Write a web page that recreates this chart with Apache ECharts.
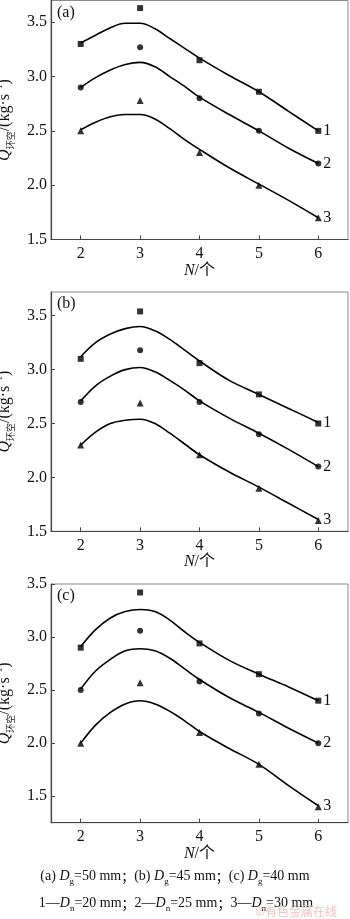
<!DOCTYPE html>
<html>
<head>
<meta charset="utf-8">
<script src="https://cdn.jsdelivr.net/npm/echarts@6/dist/echarts.min.js"></script>
<style>
html,body{margin:0;padding:0;background:#fff;}
#chart{width:350px;height:919px;}
</style>
</head>
<body>
<div id="chart"></div>
<script>
// ---- data ----
const xTicks = [2, 3, 4, 5, 6];
const seriesNames = ['1', '2', '3'];
const panelTags = ['(a)', '(b)', '(c)'];
const yTicks = [1.5, 2.0, 2.5, 3.0, 3.5];

// measured points (N = 2..6)
const aS1 = [3.30, 3.63, 3.15, 2.86, 2.50];
const aS2 = [2.90, 3.27, 2.80, 2.50, 2.20];
const aS3 = [2.50, 2.78, 2.30, 2.00, 1.70];
const bS1 = [3.10, 3.54, 3.06, 2.77, 2.50];
const bS2 = [2.70, 3.18, 2.70, 2.40, 2.10];
const bS3 = [2.30, 2.69, 2.21, 1.90, 1.60];
const cS1 = [2.90, 3.42, 2.94, 2.65, 2.40];
const cS2 = [2.50, 3.06, 2.58, 2.28, 2.00];
const cS3 = [2.00, 2.57, 2.10, 1.80, 1.40];

// fitted curves
const curveX = [2, 2.25, 2.5, 2.75, 3, 3.25, 3.5, 3.75, 4, 4.5, 5, 5.5, 6];
const aC1 = [3.31, 3.38, 3.45, 3.49, 3.49, 3.44, 3.35, 3.26, 3.17, 3.01, 2.86, 2.68, 2.50];
const aC2 = [2.90, 2.99, 3.06, 3.11, 3.13, 3.09, 3.00, 2.91, 2.81, 2.65, 2.50, 2.34, 2.20];
const aC3 = [2.51, 2.58, 2.63, 2.65, 2.65, 2.61, 2.52, 2.42, 2.33, 2.16, 2.01, 1.86, 1.70];
const bC1 = [3.12, 3.25, 3.33, 3.38, 3.40, 3.36, 3.28, 3.18, 3.08, 2.90, 2.77, 2.64, 2.51];
const bC2 = [2.71, 2.85, 2.94, 3.00, 3.02, 2.98, 2.90, 2.81, 2.71, 2.55, 2.41, 2.26, 2.10];
const bC3 = [2.30, 2.42, 2.50, 2.53, 2.54, 2.50, 2.41, 2.31, 2.21, 2.05, 1.91, 1.76, 1.61];
const cC1 = [2.91, 3.07, 3.18, 3.24, 3.26, 3.24, 3.16, 3.05, 2.95, 2.78, 2.65, 2.53, 2.40];
const cC2 = [2.51, 2.68, 2.79, 2.87, 2.89, 2.87, 2.80, 2.70, 2.60, 2.43, 2.29, 2.14, 2.00];
const cC3 = [2.00, 2.17, 2.29, 2.37, 2.40, 2.37, 2.30, 2.21, 2.11, 1.95, 1.80, 1.60, 1.41];

const yRanges = [[1.5, 3.7], [1.5, 3.72], [1.25, 3.5]];

// ---- layout/styles ----
const FONT = '"Liberation Serif", "Times New Roman", serif';
const CJK = '"Noto Sans CJK SC", sans-serif';
const grids = [
  {left: 51, right: 2, top: 0.5, height: 239},
  {left: 51, right: 2, top: 292, height: 239.3},
  {left: 51, right: 2, top: 584, height: 238.7}
];
const symbols = ['rect', 'circle', 'triangle'];
const symSizes = [6, 6, 7];

const panels = [
  {pts: [aS1, aS2, aS3], cur: [aC1, aC2, aC3]},
  {pts: [bS1, bS2, bS3], cur: [bC1, bC2, bC3]},
  {pts: [cS1, cS2, cS3], cur: [cC1, cC2, cC3]}
];

const gridOpts = [], xAxes = [], yAxes = [], series = [], graphics = [];

panels.forEach((p, gi) => {
  gridOpts.push(Object.assign({show: true, borderColor: '#8a8a8a', borderWidth: 1,
    backgroundColor: 'transparent', containLabel: false, outerBoundsMode: 'none'}, grids[gi]));
  xAxes.push({
    type: 'value', gridIndex: gi, min: 1.5, max: 6.5,
    name: '{i|N}{t|/个}', nameLocation: 'middle', nameGap: 22,
    nameTextStyle: {
      color: '#111', fontFamily: FONT, fontSize: 16,
      rich: {
        i: {fontFamily: FONT, fontStyle: 'italic', fontSize: 16, color: '#111'},
        t: {fontFamily: FONT + ',' + CJK, fontSize: 16, color: '#111'}
      }
    },
    axisLine: {show: true, onZero: false, lineStyle: {color: '#444', width: 1.2}},
    axisTick: {show: true, inside: true, length: 4, customValues: xTicks, lineStyle: {color: '#444'}},
    axisLabel: {customValues: xTicks, margin: 6, color: '#111', fontFamily: FONT, fontSize: 16},
    splitLine: {show: false}
  });
  yAxes.push({
    type: 'value', gridIndex: gi, min: yRanges[gi][0], max: yRanges[gi][1],
    name: '{q|Q}{s|环空}{t|/(kg·s}{p|−1}{t|)}',
    nameLocation: 'middle', nameGap: 36, nameRotate: 90,
    nameTextStyle: {
      color: '#111', fontFamily: FONT, fontSize: 16,
      rich: {
        q: {fontFamily: FONT, fontStyle: 'italic', fontSize: 16, lineHeight: 20, color: '#111'},
        s: {fontFamily: CJK, fontSize: 9, lineHeight: 9, verticalAlign: 'bottom', color: '#111'},
        t: {fontFamily: FONT, fontSize: 16, lineHeight: 20, color: '#111'},
        p: {fontFamily: FONT, fontSize: 9, lineHeight: 9, verticalAlign: 'top', color: '#111'}
      }
    },
    axisLine: {show: true, onZero: false, lineStyle: {color: '#444', width: 1.2}},
    axisTick: {show: true, inside: true, length: 4, customValues: yTicks, lineStyle: {color: '#444'}},
    axisLabel: {customValues: yTicks, margin: 4, color: '#111', fontFamily: FONT, fontSize: 16,
      formatter: v => Number(v).toFixed(1)},
    splitLine: {show: false}
  });

  p.pts.forEach((vals, si) => {
    series.push({
      type: 'scatter', xAxisIndex: gi, yAxisIndex: gi,
      symbol: symbols[si], symbolSize: symSizes[si],
      itemStyle: {color: '#000'},
      data: xTicks.map((x, k) => [x, vals[k]]),
      z: 3
    });
  });
  p.cur.forEach((vals, si) => {
    series.push({
      type: 'line', xAxisIndex: gi, yAxisIndex: gi,
      smooth: 0.35, showSymbol: false, symbol: 'none',
      lineStyle: {color: '#000', width: 1.6},
      endLabel: {show: true, formatter: seriesNames[si], distance: 5,
        color: '#111', fontFamily: FONT, fontSize: 16},
      data: curveX.map((x, k) => [x, vals[k]]), z: 2, silent: true
    });
  });

  graphics.push({
    type: 'text', left: 57, top: grids[gi].top + 4,
    style: {text: panelTags[gi], font: '16px ' + FONT, fill: '#111'}
  });
});

const capRich = {
  t: {fontFamily: FONT, fontSize: 14, lineHeight: 20, fill: '#111'},
  c: {fontFamily: CJK, fontSize: 13, lineHeight: 20, fill: '#111'},
  i: {fontFamily: FONT, fontStyle: 'italic', fontSize: 14, lineHeight: 20, fill: '#111'},
  s: {fontFamily: FONT, fontSize: 9, lineHeight: 9, verticalAlign: 'bottom', fill: '#111'}
};
graphics.push({
  type: 'text', x: 175, y: 876,
  style: {
    text: '{t|(a) }{i|D}{s|g}{t|=50 mm}{c|；}{t|(b) }{i|D}{s|g}{t|=45 mm}{c|；}{t|(c) }{i|D}{s|g}{t|=40 mm}',
    rich: capRich, align: 'center', verticalAlign: 'middle'
  }
});
graphics.push({
  type: 'text', x: 176, y: 903,
  style: {
    text: '{t|1—}{i|D}{s|n}{t|=20 mm}{c|；}{t|2—}{i|D}{s|n}{t|=25 mm}{c|；}{t|3—}{i|D}{s|n}{t|=30 mm}',
    rich: capRich, align: 'center', verticalAlign: 'middle'
  }
});
graphics.push({
  type: 'text', x: 296, y: 911, z: 10,
  style: {text: '©有色金属在线', font: '12px ' + CJK, fill: '#f2c4c4', align: 'center', verticalAlign: 'middle'}
});

const chart = echarts.init(document.getElementById('chart'), null, {renderer: 'canvas'});
chart.setOption({
  backgroundColor: '#fff',
  animation: false,
  grid: gridOpts,
  xAxis: xAxes,
  yAxis: yAxes,
  series: series,
  graphic: graphics
});
</script>
</body>
</html>
